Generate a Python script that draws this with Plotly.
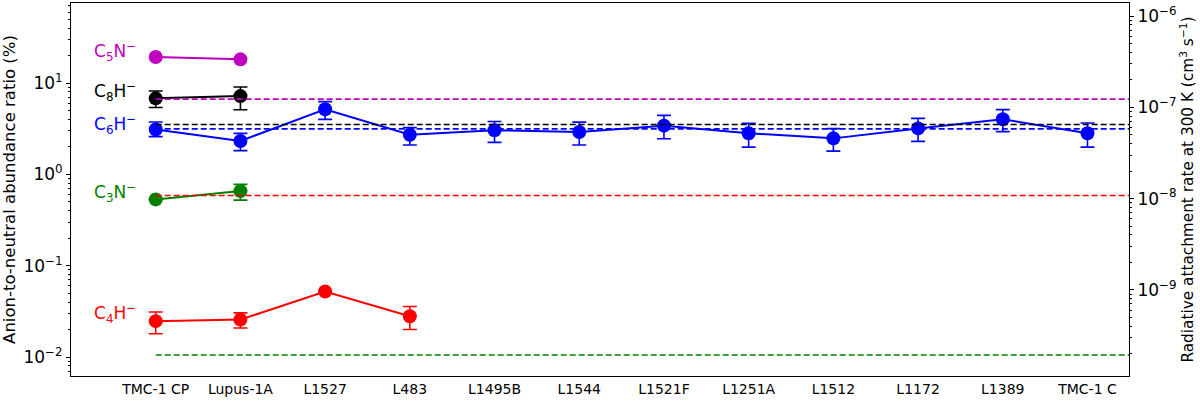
import numpy as np
import plotly.graph_objects as go

sources = ["TMC-1 CP", "Lupus-1A", "L1527", "L483", "L1495B", "L1544",
           "L1521F", "L1251A", "L1512", "L1172", "L1389", "TMC-1 C"]

# anion-to-neutral ratios (%) with upper / lower error limits
c6h = [3.1, 2.32, 5.16, 2.72, 3.04, 2.91, 3.42, 2.82, 2.48, 3.19, 4.01, 2.82]
c6h_hi = [3.75, 2.81, 6.27, 3.25, 3.8, 3.74, 4.43, 3.62, 3.17, 4.11, 5.12, 3.65]
c6h_lo = [2.59, 1.82, 4.0, 2.1, 2.24, 2.1, 2.46, 1.99, 1.8, 2.3, 2.94, 1.99]

c8h = [6.8, 7.2]
c8h_hi = [8.2, 9.05]
c8h_lo = [5.4, 5.1]

c5n = [19.3, 18.2]

c3n = [0.532, 0.656]
c3n_hi = [0.532, 0.777]
c3n_lo = [0.532, 0.523]

c4h = [0.0247, 0.0257, 0.0521, 0.0279]
c4h_hi = [0.0311, 0.0304, 0.0521, 0.0358]
c4h_lo = [0.018, 0.0208, 0.0521, 0.020]

# radiative attachment rates (cm3 s-1)
rate_c5n = 1.23e-7
rate_c8h = 6.47e-8
rate_c6h = 5.81e-8
rate_c4h = 1.08e-8
rate_c3n = 1.93e-10

FONT = "DejaVu Sans"
x_idx = list(range(len(sources)))

series = [
    ("C<sub>5</sub>N<sup>−</sup>", c5n, None, None, "#bf00bf", 22.3),
    ("C<sub>8</sub>H<sup>−</sup>", c8h, c8h_hi, c8h_lo, "black", 8.0),
    ("C<sub>6</sub>H<sup>−</sup>", c6h, c6h_hi, c6h_lo, "blue", 3.5),
    ("C<sub>3</sub>N<sup>−</sup>", c3n, c3n_hi, c3n_lo, "green", 0.63),
    ("C<sub>4</sub>H<sup>−</sup>", c4h, c4h_hi, c4h_lo, "red", 0.030),
]
rates = [(rate_c5n, "#bf00bf"), (rate_c8h, "black"), (rate_c6h, "blue"),
         (rate_c4h, "red"), (rate_c3n, "green")]

fig = go.Figure()

for r, col in rates:
    fig.add_trace(go.Scatter(
        x=[0, 12], y=[r, r], yaxis="y2", mode="lines",
        line=dict(color=col, width=1.6, dash="6px,3px"),
        showlegend=False, hoverinfo="skip",
    ))

for name, vals, hi, lo, col, _ in series:
    n = len(vals)
    err = None
    if hi is not None:
        err = dict(type="data", symmetric=False,
                   array=[h - v for h, v in zip(hi, vals)],
                   arrayminus=[v - l for v, l in zip(vals, lo)],
                   color=col, thickness=1.6, width=7)
    fig.add_trace(go.Scatter(
        x=x_idx[:n], y=vals, mode="lines+markers",
        line=dict(color=col, width=2),
        marker=dict(color=col, size=14),
        error_y=err, showlegend=False,
    ))

for name, vals, hi, lo, col, ylab in series:
    fig.add_annotation(
        x=-0.75, y=np.log10(ylab), xref="x", yref="y", text=name,
        showarrow=False, xanchor="left", yanchor="middle",
        font=dict(family=FONT, size=17, color=col),
    )

# empty trace to activate the right axis
fig.add_trace(go.Scatter(x=[None], y=[None], yaxis="y2", showlegend=False))

left_ticks = [0.01, 0.1, 1, 10]
left_text = ["10<sup>−2</sup>", "10<sup>−1</sup>", "10<sup>0</sup>", "10<sup>1</sup>"]
right_ticks = [1e-9, 1e-8, 1e-7, 1e-6]
right_text = ["10<sup>−9</sup>", "10<sup>−8</sup>", "10<sup>−7</sup>", "10<sup>−6</sup>"]

left_minor = [m * 10.0 ** e for e in range(-3, 2) for m in range(2, 10)]
right_minor = [m * 10.0 ** e for e in range(-11, -5) for m in range(2, 10)]

fig.update_layout(
    width=1200, height=401,
    margin=dict(l=71, r=71, t=3, b=25),
    plot_bgcolor="white", paper_bgcolor="white",
    font=dict(family=FONT, size=14, color="black"),
    xaxis=dict(
        range=[-1.0, 11.49], tickvals=x_idx, ticktext=sources,
        ticks="", showgrid=False, zeroline=False, automargin=False,
        showline=True, linecolor="black", linewidth=1, mirror=True,
        tickfont=dict(size=14),
    ),
    yaxis=dict(
        type="log", range=[-2.208, 1.877], automargin=False,
        tickvals=left_ticks, ticktext=left_text,
        ticks="outside", ticklen=4, tickwidth=1, tickcolor="black",
        minor=dict(tickvals=left_minor, ticks="outside", ticklen=2,
                   tickcolor="black", showgrid=False),
        showgrid=False, zeroline=False,
        showline=True, linecolor="black", linewidth=1, mirror=True,
        tickfont=dict(size=17),
        title=dict(text="Anion-to-neutral abundance ratio (%)",
                   font=dict(size=16.5), standoff=4),
    ),
    yaxis2=dict(
        type="log", range=[-9.944, -5.857], overlaying="y", side="right",
        automargin=False,
        tickvals=right_ticks, ticktext=right_text,
        ticks="outside", ticklen=4, tickwidth=1, tickcolor="black",
        minor=dict(tickvals=right_minor, ticks="outside", ticklen=2,
                   tickcolor="black", showgrid=False),
        showgrid=False, zeroline=False,
        tickfont=dict(size=17),
        title=dict(text="Radiative attachment rate at 300 K (cm<sup>3</sup> s<sup>−1</sup>)",
                   font=dict(size=15.3), standoff=4),
    ),
)

# page body margin would shift the figure by 8px
fig.write_html("out.html", config={"displayModeBar": False},
               post_script="document.body.style.margin='0';")
